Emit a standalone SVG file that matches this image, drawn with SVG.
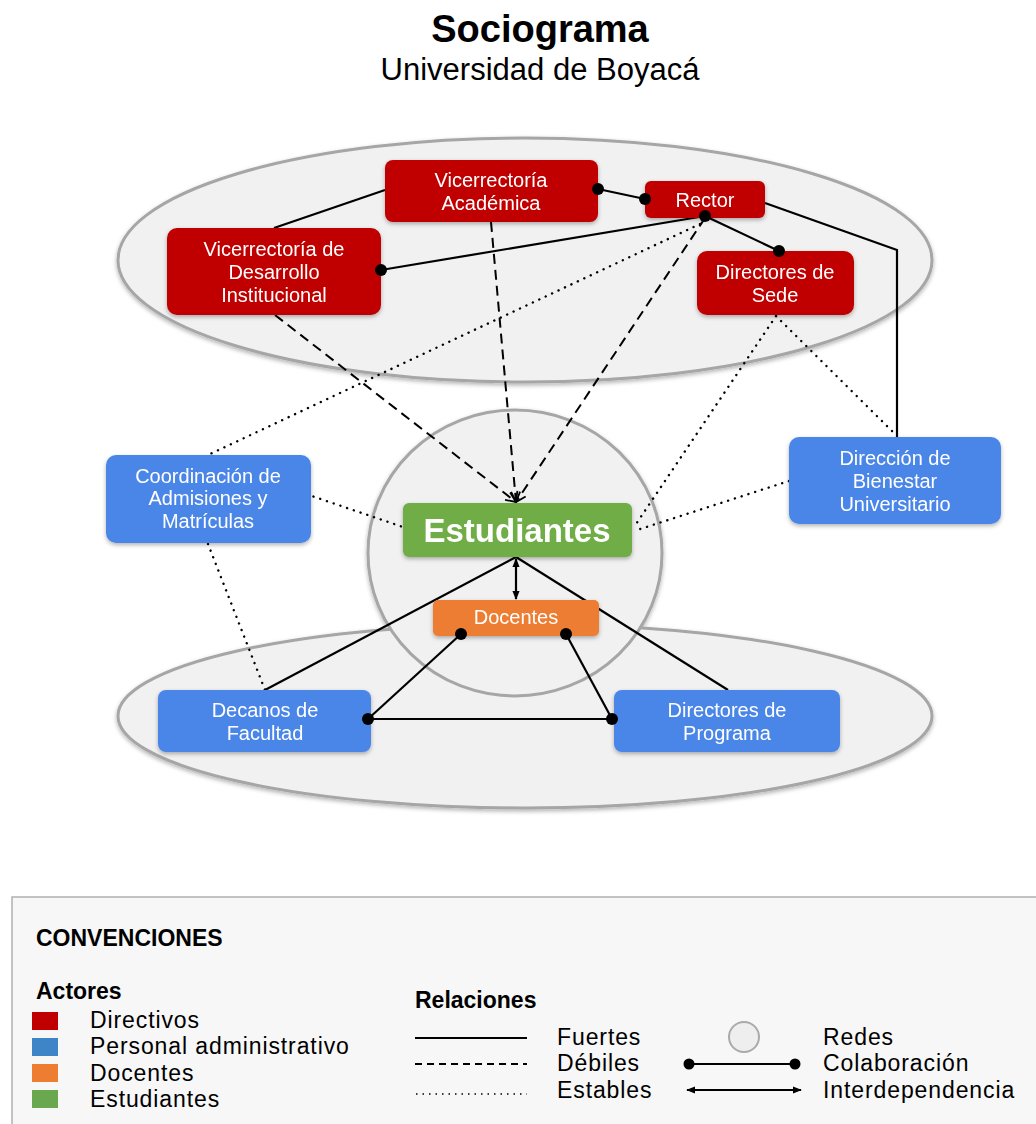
<svg xmlns="http://www.w3.org/2000/svg" width="1036" height="1124" viewBox="0 0 1036 1124">
<defs>
<style>
.t{font-family:"Liberation Sans",Arial,sans-serif;}
.nt{font-family:"Liberation Sans",Arial,sans-serif;font-size:20px;fill:#fff;text-anchor:middle;}
.lg{font-family:"Liberation Sans",Arial,sans-serif;font-size:23px;letter-spacing:0.9px;fill:#000;}
.lgb{font-family:"Liberation Sans",Arial,sans-serif;font-size:23px;font-weight:bold;fill:#000;}
.net{fill:#f1f1f1;stroke:#a6a6a6;stroke-width:3;}
.red{fill:#c00000;}
.blue{fill:#4a86e8;}
.strong{stroke:#000;stroke-width:2.2;fill:none;}
.weak{stroke:#000;stroke-width:2;fill:none;stroke-dasharray:10 6;}
.stable{stroke:#000;stroke-width:2.4;fill:none;stroke-dasharray:0.1 7;stroke-linecap:round;}
.dot{fill:#000;}
</style>
<filter id="sh" x="-10%" y="-10%" width="120%" height="130%">
<feDropShadow dx="0" dy="2" stdDeviation="2" flood-color="#000" flood-opacity="0.3"/>
</filter>
<marker id="arr" viewBox="0 0 12 12" refX="11" refY="6" markerWidth="12" markerHeight="12" markerUnits="userSpaceOnUse" orient="auto">
<path d="M1,1 L11,6 L1,11" fill="none" stroke="#000" stroke-width="1.8"/>
</marker>
<marker id="ah" viewBox="0 0 10 10" refX="9" refY="5" markerWidth="9" markerHeight="9" markerUnits="userSpaceOnUse" orient="auto-start-reverse">
<path d="M0,1 L10,5 L0,9 Z" fill="#000"/>
</marker>
</defs>
<rect width="1036" height="1124" fill="#fff"/>

<g id="title">
<text class="t" x="540" y="42" font-size="38" font-weight="bold" text-anchor="middle">Sociograma</text>
<text class="t" x="540" y="80" font-size="31" text-anchor="middle">Universidad de Boyacá</text>
</g>

<g id="networks" filter="url(#sh)">
<ellipse id="net-top" class="net" cx="525" cy="260" rx="407" ry="122"/>
<ellipse id="net-bottom" class="net" cx="525" cy="716" rx="407" ry="92"/>
<ellipse id="net-center" class="net" cx="515" cy="553" rx="147" ry="143"/>
</g>

<g id="connectors">
<!-- strong -->
<line class="strong" x1="385" y1="190" x2="274" y2="228"/>
<polyline class="strong" points="765,203 897,250 897,437"/>
<line class="strong" x1="516" y1="557" x2="265" y2="690"/>
<line class="strong" x1="516" y1="557" x2="728" y2="690"/>
<!-- collaboration -->
<line class="strong" x1="598" y1="189" x2="645" y2="199"/>
<line class="strong" x1="705" y1="216" x2="381" y2="270"/>
<line class="strong" x1="705" y1="216" x2="779" y2="251"/>
<line class="strong" x1="461" y1="634" x2="368" y2="719"/>
<line class="strong" x1="566" y1="634" x2="612" y2="719"/>
<line class="strong" x1="368" y1="719" x2="612" y2="719"/>
<!-- interdependence -->
<line class="strong" x1="516" y1="559" x2="516" y2="599" stroke-width="1.6" marker-start="url(#ah)" marker-end="url(#ah)"/>
<!-- weak -->
<line class="weak" x1="275" y1="315" x2="516" y2="502" marker-end="url(#arr)"/>
<line class="weak" x1="491" y1="222" x2="516" y2="502" marker-end="url(#arr)"/>
<line class="weak" x1="705" y1="218" x2="516" y2="502" marker-end="url(#arr)"/>
<!-- stable -->
<line class="stable" x1="700" y1="224" x2="208" y2="455"/>
<line class="stable" x1="776" y1="316" x2="634" y2="527"/>
<line class="stable" x1="776" y1="316" x2="893" y2="432"/>
<line class="stable" x1="300" y1="492" x2="403" y2="527"/>
<line class="stable" x1="789" y1="481" x2="634" y2="531"/>
<line class="stable" x1="208" y1="544" x2="265" y2="690"/>
</g>

<g id="n-vac" filter="url(#sh)">
<rect class="red" x="385" y="160" width="213" height="62" rx="8"/>
<text class="nt" x="491" y="187">Vicerrectoría</text>
<text class="nt" x="491" y="210">Académica</text>
</g>
<g id="n-rector" filter="url(#sh)">
<rect class="red" x="645" y="181" width="120" height="37" rx="6"/>
<text class="nt" x="705" y="207">Rector</text>
</g>
<g id="n-vdi" filter="url(#sh)">
<rect class="red" x="167" y="228" width="214" height="87" rx="10"/>
<text class="nt" x="274" y="256">Vicerrectoría de</text>
<text class="nt" x="274" y="279">Desarrollo</text>
<text class="nt" x="274" y="302">Institucional</text>
</g>
<g id="n-sede" filter="url(#sh)">
<rect class="red" x="697" y="251" width="157" height="64" rx="10"/>
<text class="nt" x="775" y="279">Directores de</text>
<text class="nt" x="775" y="302">Sede</text>
</g>
<g id="n-adm" filter="url(#sh)">
<rect class="blue" x="106" y="455" width="205" height="88" rx="10"/>
<text class="nt" x="208" y="483">Coordinación de</text>
<text class="nt" x="208" y="505">Admisiones y</text>
<text class="nt" x="208" y="528">Matrículas</text>
</g>
<g id="n-bien" filter="url(#sh)">
<rect class="blue" x="789" y="437" width="212" height="87" rx="10"/>
<text class="nt" x="895" y="465">Dirección de</text>
<text class="nt" x="895" y="488">Bienestar</text>
<text class="nt" x="895" y="511">Universitario</text>
</g>
<g id="n-est" filter="url(#sh)">
<rect x="403" y="503" width="229" height="54" rx="6" fill="#70ad47"/>
<text x="517" y="542" font-family="Liberation Sans, Arial, sans-serif" font-size="33" font-weight="bold" fill="#fff" text-anchor="middle">Estudiantes</text>
</g>
<g id="n-doc" filter="url(#sh)">
<rect x="433" y="600" width="166" height="36" rx="5" fill="#ed7d31"/>
<text class="nt" x="516" y="624" font-size="18.5">Docentes</text>
</g>
<g id="n-dec" filter="url(#sh)">
<rect class="blue" x="158" y="690" width="213" height="62" rx="8"/>
<text class="nt" x="265" y="717">Decanos de</text>
<text class="nt" x="265" y="740">Facultad</text>
</g>
<g id="n-prog" filter="url(#sh)">
<rect class="blue" x="614" y="690" width="226" height="62" rx="8"/>
<text class="nt" x="727" y="717">Directores de</text>
<text class="nt" x="727" y="740">Programa</text>
</g>

<g id="connector-ends">
<circle class="dot" cx="598" cy="189" r="6"/>
<circle class="dot" cx="645" cy="199" r="6"/>
<circle class="dot" cx="705" cy="216" r="6"/>
<circle class="dot" cx="381" cy="270" r="6"/>
<circle class="dot" cx="779" cy="251" r="6"/>
<circle class="dot" cx="461" cy="634" r="6"/>
<circle class="dot" cx="566" cy="634" r="6"/>
<circle class="dot" cx="368" cy="719" r="6"/>
<circle class="dot" cx="612" cy="719" r="6"/>
</g>

<g id="legend">
<rect x="12" y="897" width="1030" height="240" fill="#f7f7f7" stroke="#b0b0b0" stroke-width="1.5"/>
<text class="lgb" x="36" y="946">CONVENCIONES</text>
<text class="lgb" x="36" y="999">Actores</text>
<rect x="32" y="1012" width="26" height="18" fill="#c00000"/>
<rect x="32" y="1038" width="26" height="18" fill="#3d85c6"/>
<rect x="32" y="1064" width="26" height="18" fill="#ed7d31"/>
<rect x="32" y="1090" width="26" height="18" fill="#6aa84f"/>
<text class="lg" x="90" y="1028">Directivos</text>
<text class="lg" x="90" y="1054">Personal administrativo</text>
<text class="lg" x="90" y="1081">Docentes</text>
<text class="lg" x="90" y="1107">Estudiantes</text>
<text class="lgb" x="415" y="1008">Relaciones</text>
<line x1="415" y1="1038" x2="527" y2="1038" stroke="#000" stroke-width="2"/>
<line x1="415" y1="1064" x2="527" y2="1064" stroke="#000" stroke-width="2" stroke-dasharray="7 5"/>
<line x1="416" y1="1094" x2="527" y2="1094" stroke="#000" stroke-width="1.5" stroke-dasharray="1.5 5"/>
<text class="lg" x="557" y="1045">Fuertes</text>
<text class="lg" x="557" y="1071">Débiles</text>
<text class="lg" x="557" y="1098">Estables</text>
<ellipse cx="744" cy="1037" rx="15" ry="15" fill="#eeeeee" stroke="#aaa" stroke-width="2"/>
<line x1="689" y1="1064" x2="795" y2="1064" stroke="#000" stroke-width="2"/>
<circle cx="689" cy="1064" r="5.5" fill="#000"/>
<circle cx="795" cy="1064" r="5.5" fill="#000"/>
<line x1="687" y1="1090" x2="801" y2="1090" stroke="#000" stroke-width="1.8" marker-start="url(#ah)" marker-end="url(#ah)"/>
<text class="lg" x="823" y="1045">Redes</text>
<text class="lg" x="823" y="1071">Colaboración</text>
<text class="lg" x="823" y="1098">Interdependencia</text>
</g>
</svg>
